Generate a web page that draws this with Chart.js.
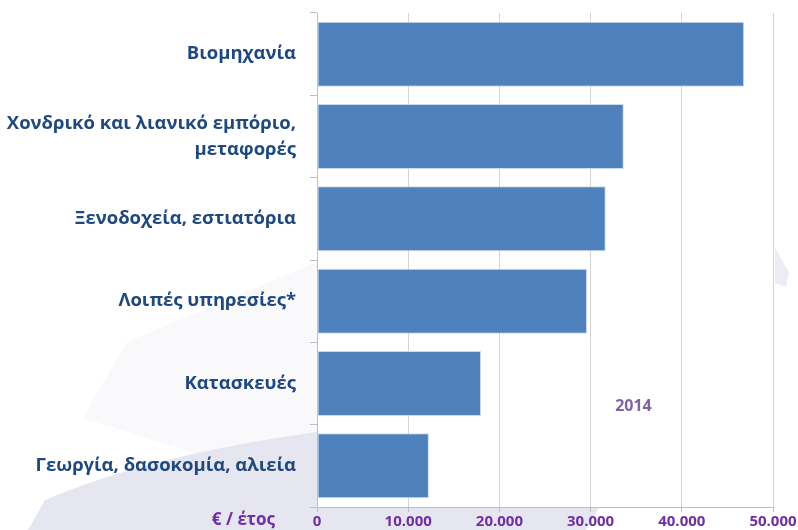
<!DOCTYPE html>
<html>
<head>
<meta charset="utf-8">
<script src="https://cdn.jsdelivr.net/npm/chart.js@4.4.0/dist/chart.umd.min.js"></script>
<style>
  html, body { margin: 0; padding: 0; background: #ffffff; overflow: hidden; }
  #wrap { width: 798px; height: 530px; position: relative; }
</style>
</head>
<body>
<div id="wrap"><canvas id="chart"></canvas></div>
<script>
// data (2014, € per year)
var sectors = [
    "Βιομηχανία",
    ["Χονδρικό και λιανικό εμπόριο,", "μεταφορές"],
    "Ξενοδοχεία, εστιατόρια",
    "Λοιπές υπηρεσίες*",
    "Κατασκευές",
    "Γεωργία, δασοκομία, αλιεία"
];
var wages = [46840, 33640, 31660, 29610, 17990, 12270];
var yearLabel = "2014";
var unitLabel = "€ / έτος";
var xTicks = [0, 10000, 20000, 30000, 40000, 50000];

var labelBlue = "#1f497d";
var purple = "#7030a0";

function fmt(v) {
    return v.toString().replace(/\B(?=(\d{3})+(?!\d))/g, ".");
}

// faint watermark swooshes + white plot area, plus the free texts
var backdrop = {
    id: 'backdrop',
    beforeDraw: function(chart) {
        var ctx = chart.ctx, a = chart.chartArea;
        ctx.save();
        ctx.fillStyle = "#ffffff";
        ctx.fillRect(0, 0, chart.width, chart.height);

        ctx.fillStyle = "#f9f9fb";
        ctx.beginPath();
        ctx.moveTo(83, 418);
        ctx.lineTo(127, 342);
        ctx.lineTo(a.left, 262);
        ctx.lineTo(a.left, 440);
        ctx.lineTo(200, 455);
        ctx.closePath();
        ctx.fill();

        ctx.fillStyle = "#e6e6f1";
        ctx.beginPath();
        ctx.moveTo(28, 530);
        ctx.lineTo(45, 500);
        ctx.quadraticCurveTo(150, 455, a.left, 432);
        ctx.lineTo(620, 420);
        ctx.lineTo(604, 499);
        ctx.lineTo(586, 530);
        ctx.closePath();
        ctx.fill();

        ctx.fillStyle = "#ffffff";
        ctx.fillRect(a.left, a.top, a.right - a.left, a.bottom - a.top);

        ctx.fillStyle = "#ececf5";
        ctx.beginPath();
        ctx.moveTo(775, 248);
        ctx.lineTo(789, 272);
        ctx.lineTo(786, 287);
        ctx.lineTo(775, 283);
        ctx.closePath();
        ctx.fill();
        ctx.restore();
    },
    afterDraw: function(chart) {
        var ctx = chart.ctx, x = chart.scales.x, y = chart.scales.y;
        ctx.save();
        ctx.textBaseline = "middle";
        ctx.font = "bold 16px 'Open Sans'";
        ctx.fillStyle = "#8064a2";
        ctx.textAlign = "center";
        ctx.fillText(yearLabel, x.getPixelForValue(34700), (y.getPixelForValue(3) + y.getPixelForValue(5)) / 2 + 23);

        ctx.font = "bold 17px 'Open Sans'";
        ctx.fillStyle = purple;
        ctx.textAlign = "right";
        ctx.fillText(unitLabel, 275, 520);
        ctx.restore();
    }
};

new Chart(document.getElementById("chart"), {
    type: 'bar',
    data: {
        labels: sectors,
        datasets: [{
            data: wages,
            backgroundColor: "#4f81bd",
            borderColor: "rgba(200,215,235,0.9)",
            borderWidth: 1,
            borderSkipped: false,
            barPercentage: 0.79,
            categoryPercentage: 1.0
        }]
    },
    options: {
        indexAxis: 'y',
        responsive: true,
        maintainAspectRatio: false,
        animation: false,
        layout: { padding: { top: 13, right: 25, left: 0, bottom: 0 } },
        plugins: {
            legend: { display: false },
            tooltip: { enabled: false }
        },
        scales: {
            x: {
                min: 0,
                max: 50000,
                afterBuildTicks: function(scale) {
                    scale.ticks = xTicks.map(function(v) { return { value: v }; });
                },
                afterFit: function(scale) {
                    scale.paddingRight = 0;
                    scale.paddingLeft = 0;
                    scale.height = 23;
                },
                grid: {
                    color: "#d4d4d4",
                    lineWidth: 1,
                    tickLength: 5,
                    tickColor: "#bfbfbf"
                },
                border: { color: "#bfbfbf", width: 1 },
                ticks: {
                    color: purple,
                    font: { family: "'Open Sans'", size: 15, weight: 'bold' },
                    padding: 1,
                    maxRotation: 0,
                    callback: function(v) { return fmt(v); }
                }
            },
            y: {
                afterFit: function(scale) {
                    scale.width = 317;
                    scale.paddingTop = 0;
                    scale.paddingBottom = 0;
                },
                grid: {
                    drawOnChartArea: false,
                    drawTicks: true,
                    tickLength: 7,
                    tickColor: "#bfbfbf",
                    offset: true
                },
                border: { color: "#bfbfbf", width: 1 },
                ticks: {
                    color: labelBlue,
                    font: { family: "'Open Sans'", size: 18.5, weight: 'bold', lineHeight: 1.4 },
                    padding: 14
                }
            }
        }
    },
    plugins: [backdrop]
});
</script>
</body>
</html>
